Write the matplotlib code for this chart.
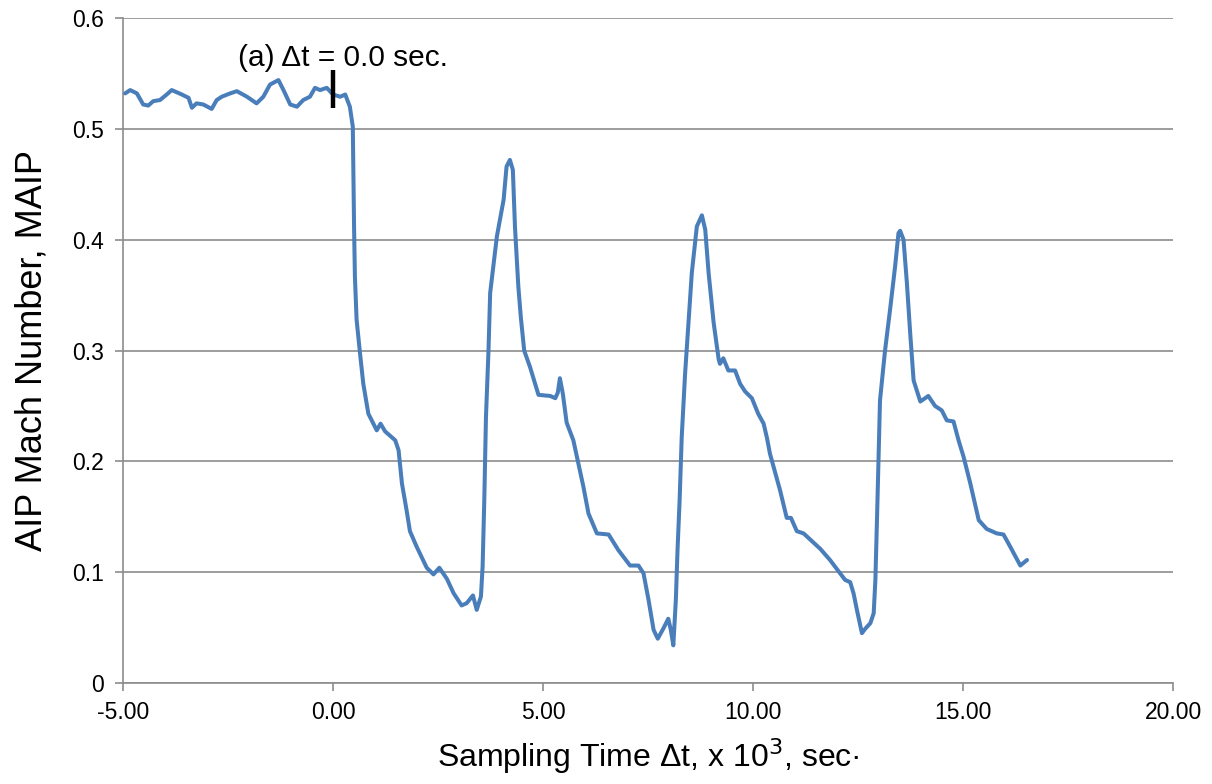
import matplotlib
matplotlib.use("Agg")
import matplotlib.pyplot as plt
from matplotlib.ticker import FixedLocator, FuncFormatter

plt.rcParams['font.family'] = ['Liberation Sans', 'DejaVu Sans']

# Sampling time (x 10^3 s) and AIP Mach number
t = [-4.95, -4.83, -4.67, -4.52, -4.40, -4.28, -4.12, -3.96, -3.84, -3.72,
     -3.60, -3.44, -3.36, -3.25, -3.09, -2.89, -2.77, -2.65, -2.45, -2.29,
     -2.05, -1.82, -1.66, -1.50, -1.30, -1.18, -1.02, -0.86, -0.71, -0.55,
     -0.43, -0.31, -0.15, 0.00, 0.17, 0.29, 0.40, 0.47, 0.48, 0.50,
     0.52, 0.56, 0.64, 0.72, 0.84, 1.04, 1.13, 1.24, 1.48, 1.56,
     1.64, 1.75, 1.83, 1.99, 2.23, 2.39, 2.53, 2.71, 2.87, 3.06,
     3.18, 3.33, 3.42, 3.52, 3.56, 3.60, 3.64, 3.70, 3.74, 3.90,
     4.06, 4.13, 4.21, 4.28, 4.33, 4.41, 4.47, 4.55, 4.69, 4.89,
     5.17, 5.29, 5.35, 5.40, 5.47, 5.56, 5.72, 5.84, 5.96, 6.08,
     6.28, 6.56, 6.79, 7.07, 7.27, 7.39, 7.51, 7.63, 7.73, 7.86,
     7.98, 8.04, 8.10, 8.16, 8.20, 8.25, 8.30, 8.38, 8.46, 8.54,
     8.66, 8.78, 8.86, 8.94, 9.06, 9.18, 9.21, 9.29, 9.41, 9.57,
     9.69, 9.81, 9.97, 10.12, 10.25, 10.33, 10.40, 10.64, 10.80, 10.90,
     11.04, 11.20, 11.60, 11.83, 12.07, 12.19, 12.31, 12.39, 12.47, 12.59,
     12.67, 12.79, 12.87, 12.91, 12.95, 13.02, 13.14, 13.26, 13.38, 13.46,
     13.50, 13.58, 13.66, 13.74, 13.82, 13.98, 14.17, 14.33, 14.49, 14.61,
     14.77, 14.89, 15.01, 15.17, 15.37, 15.56, 15.80, 15.96, 16.12, 16.36,
     16.52]
mach = [0.532, 0.535, 0.532, 0.522, 0.521, 0.525, 0.526, 0.531, 0.535, 0.533,
        0.531, 0.528, 0.519, 0.523, 0.522, 0.518, 0.526, 0.529, 0.532, 0.534,
        0.529, 0.523, 0.529, 0.540, 0.544, 0.535, 0.522, 0.520, 0.526, 0.529,
        0.537, 0.535, 0.537, 0.531, 0.529, 0.531, 0.520, 0.502, 0.472, 0.412,
        0.367, 0.328, 0.298, 0.270, 0.243, 0.228, 0.234, 0.227, 0.219, 0.210,
        0.180, 0.156, 0.137, 0.123, 0.104, 0.098, 0.104, 0.094, 0.081, 0.070,
        0.072, 0.079, 0.066, 0.078, 0.105, 0.165, 0.240, 0.300, 0.352, 0.403,
        0.436, 0.466, 0.472, 0.463, 0.412, 0.358, 0.330, 0.300, 0.285, 0.260,
        0.259, 0.257, 0.262, 0.275, 0.261, 0.235, 0.219, 0.198, 0.177, 0.153,
        0.135, 0.134, 0.120, 0.106, 0.106, 0.099, 0.075, 0.048, 0.040, 0.049,
        0.058, 0.048, 0.034, 0.075, 0.120, 0.165, 0.222, 0.279, 0.325, 0.370,
        0.412, 0.422, 0.409, 0.370, 0.325, 0.292, 0.288, 0.293, 0.282, 0.282,
        0.270, 0.263, 0.257, 0.243, 0.234, 0.221, 0.207, 0.174, 0.149, 0.149,
        0.137, 0.135, 0.121, 0.111, 0.099, 0.093, 0.091, 0.081, 0.066, 0.045,
        0.049, 0.054, 0.063, 0.093, 0.150, 0.255, 0.300, 0.337, 0.376, 0.406,
        0.408, 0.400, 0.361, 0.315, 0.273, 0.254, 0.259, 0.250, 0.246, 0.237,
        0.236, 0.219, 0.204, 0.180, 0.147, 0.139, 0.135, 0.134, 0.123, 0.106,
        0.111]

x_ticks = [-5, 0, 5, 10, 15, 20]
y_ticks = [0, 0.1, 0.2, 0.3, 0.4, 0.5, 0.6]
y_tick_labels = ['0', '0.1', '0.2', '0.3', '0.4', '0.5', '0.6']
marker_t = 0.0
marker_range = (0.519, 0.553)

fig = plt.figure(figsize=(12.12, 7.84), dpi=100)
ax = fig.add_axes([0.1015, 0.1288, 0.8665, 0.8482])

grid_c = '#8c8c8c'
ax.set_xlim(-5, 20)
ax.set_ylim(0, 0.6)
ax.yaxis.set_major_locator(FixedLocator(y_ticks))
ax.set_yticklabels(y_tick_labels)
ax.xaxis.set_major_locator(FixedLocator(x_ticks))
ax.xaxis.set_major_formatter(FuncFormatter(lambda v, p: f"{v:.2f}"))
ax.grid(axis='y', color=grid_c, linewidth=1.2)
ax.set_axisbelow(True)
for s in ['top', 'right']:
    ax.spines[s].set_visible(False)
for s in ['left', 'bottom']:
    ax.spines[s].set_color(grid_c)
    ax.spines[s].set_linewidth(1.2)
ax.tick_params(axis='both', colors=grid_c, labelcolor='black', labelsize=16.5,
               length=6, width=1.2, direction='out')
ax.tick_params(axis='x', pad=7)
ax.tick_params(axis='y', pad=8)

ax.plot(t, mach, color='#4a7ebb', linewidth=2.9, solid_joinstyle='round',
        solid_capstyle='round', zorder=3)

ax.plot([marker_t, marker_t], marker_range, color='black', linewidth=3.2,
        solid_capstyle='butt', zorder=4)
ax.text(-2.27, 0.557, '(a) Δt = 0.0 sec.', fontsize=21.5, ha='left',
        va='baseline', color='black')

ax.set_xlabel('Sampling Time Δt, x 10$^3$, sec·', fontsize=23, labelpad=9)
ax.set_ylabel('AIP Mach Number, MAIP', fontsize=26, labelpad=16)

fig.savefig('out.png', dpi=100)
